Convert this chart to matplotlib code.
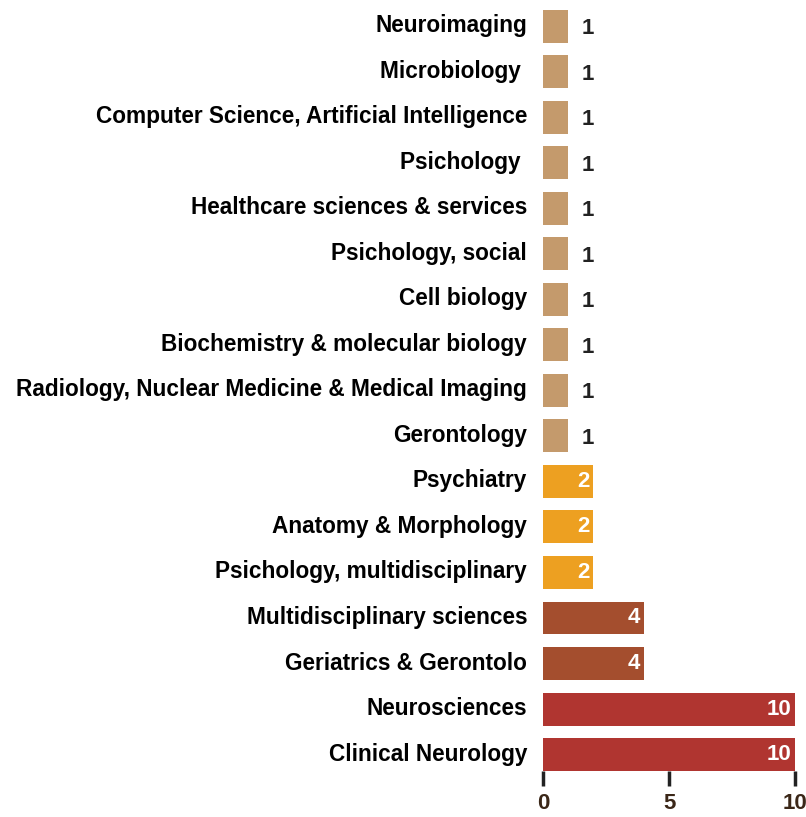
import matplotlib.pyplot as plt
from matplotlib.transforms import ScaledTranslation

plt.rcParams['font.family'] = ['Liberation Sans', 'DejaVu Sans']

# Categories listed bottom to top
categories = [
    'Clinical Neurology',
    'Neurosciences',
    'Geriatrics & Gerontolo',
    'Multidisciplinary sciences',
    'Psichology, multidisciplinary',
    'Anatomy & Morphology',
    'Psychiatry',
    'Gerontology',
    'Radiology, Nuclear Medicine & Medical Imaging',
    'Biochemistry & molecular biology',
    'Cell biology',
    'Psichology, social',
    'Healthcare sciences & services',
    'Psichology ',
    'Computer Science, Artificial Intelligence',
    'Microbiology ',
    'Neuroimaging',
]
counts = [10, 10, 4, 4, 2, 2, 2, 1, 1, 1, 1, 1, 1, 1, 1, 1, 1]
x_ticks = [0, 5, 10]

# Colour by count group
palette = {10: '#B03530', 4: '#A44E2E', 2: '#EDA021', 1: '#C49A6C'}
colors = [palette[c] for c in counts]

fig = plt.figure(figsize=(8.06, 8.17), dpi=100)
bar_h = 0.725
ax = fig.add_axes([0.6737, 0.0563, 0.3127, 0.9315])

ypos = list(range(len(categories)))
ax.barh(ypos, counts, height=bar_h, color=colors)

for y, v in zip(ypos, counts):
    if v == 1:
        ax.text(v + 0.78, y - 0.05, str(v), ha='center', va='center',
                fontsize=16, fontweight='bold', color='#222222')
    else:
        ax.text(v - 0.15, y, str(v), ha='right', va='center',
                fontsize=16, fontweight='bold', color='white')

ax.set_xlim(0, 10)
ax.set_ylim(-bar_h / 2, len(categories) - 1 + bar_h / 2)
ax.set_yticks(ypos)
ax.set_yticklabels(categories, fontsize=16.3, fontweight='bold', color='black')
ax.tick_params(axis='y', length=0, pad=11.5)

# nudge category labels up a little
shift = ScaledTranslation(0, 3 / 100, fig.dpi_scale_trans)
for lbl in ax.get_yticklabels():
    lbl.set_transform(lbl.get_transform() + shift)

ax.set_xticks(x_ticks)
ax.set_xticklabels([str(t) for t in x_ticks], fontsize=16, fontweight='bold',
                   color='#3B2718')
ax.tick_params(axis='x', length=11, width=2.5, color='#222222', pad=5)

for side in ['top', 'right', 'left', 'bottom']:
    ax.spines[side].set_visible(False)

fig.savefig('out.png', dpi=100)
